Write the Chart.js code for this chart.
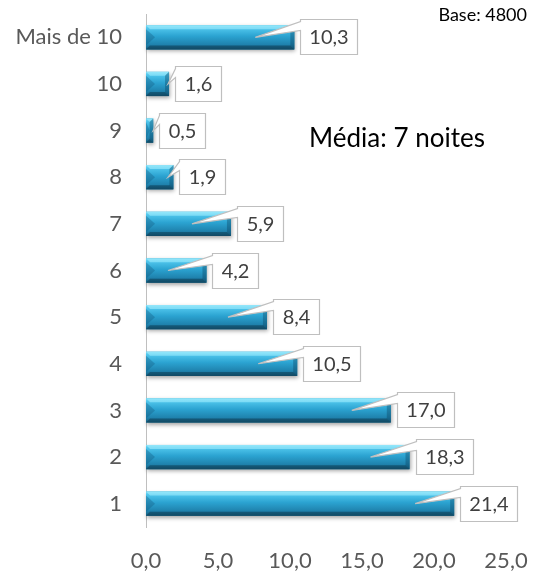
<!DOCTYPE html>
<html><head><meta charset="utf-8">
<script src="https://cdn.jsdelivr.net/npm/chart.js@4/dist/chart.umd.min.js"></script>
<style>html,body{margin:0;padding:0;background:#fff}#wrap{position:relative;width:536px;height:573px}</style>
</head><body><div id="wrap"><canvas id="c" width="536" height="573"></canvas></div>
<script>
const categories = ["Mais de 10","10","9","8","7","6","5","4","3","2","1"];
const values = [10.3,1.6,0.5,1.9,5.9,4.2,8.4,10.5,17.0,18.3,21.4];
const xTicks = [0,5,10,15,20,25];
const noteText = "Média: 7 noites";
const baseText = "Base: 4800";
const FONT = "Lato, 'Open Sans', sans-serif";
const fmt = v => v.toFixed(1).replace('.', ',');

const barStyle = {
  id: 'barStyle',
  afterDatasetsDraw(chart) {
    const ctx = chart.ctx;
    const meta = chart.getDatasetMeta(0);
    meta.data.forEach((el) => {
      const x0 = el.base, x1 = el.x, h = el.height, yc = el.y;
      const top = yc - h/2, bot = yc + h/2;
      ctx.save();
      ctx.shadowColor = 'rgba(0,0,0,0.35)';
      ctx.shadowBlur = 4; ctx.shadowOffsetX = 1; ctx.shadowOffsetY = 2;
      const g = ctx.createLinearGradient(0, top, 0, bot);
      g.addColorStop(0, '#7ddcf5');
      g.addColorStop(0.12, '#50c6ec');
      g.addColorStop(0.45, '#2ba3d1');
      g.addColorStop(0.8, '#1f82ad');
      g.addColorStop(1, '#175c7c');
      ctx.fillStyle = g;
      ctx.fillRect(x0, top, x1 - x0, h);
      ctx.restore();
      const b = Math.min(4, (x1-x0)/2);
      ctx.save();
      ctx.fillStyle = 'rgba(170,240,255,0.55)';
      ctx.beginPath(); ctx.moveTo(x0, top); ctx.lineTo(x1, top); ctx.lineTo(x1-b, top+b); ctx.lineTo(x0+b, top+b); ctx.closePath(); ctx.fill();
      ctx.fillStyle = 'rgba(10,50,70,0.45)';
      ctx.beginPath(); ctx.moveTo(x0, bot); ctx.lineTo(x1, bot); ctx.lineTo(x1-b, bot-b); ctx.lineTo(x0+b, bot-b); ctx.closePath(); ctx.fill();
      ctx.fillStyle = 'rgba(10,60,90,0.35)';
      ctx.beginPath(); ctx.moveTo(x1, top); ctx.lineTo(x1, bot); ctx.lineTo(x1-b, bot-b); ctx.lineTo(x1-b, top+b); ctx.closePath(); ctx.fill();
      const lb = Math.min(9, (x1-x0)/2);
      ctx.fillStyle = 'rgba(20,90,125,0.35)';
      ctx.beginPath(); ctx.moveTo(x0, top+b); ctx.lineTo(x0+lb, yc); ctx.lineTo(x0, bot-b); ctx.closePath(); ctx.fill();
      ctx.restore();
    });
    ctx.save();
    ctx.font = '20px ' + FONT;
    meta.data.forEach((el, i) => {
      const x0 = el.base, x1 = el.x, yc = el.y;
      const txt = fmt(values[i]);
      const tw = ctx.measureText(txt).width;
      const bw = Math.round(tw + 18), bh = 35;
      const bl = Math.round(x1 + 6) + 0.5, bt = Math.round(yc - 18) + 0.5;
      const tx = x1 - Math.min(39, Math.max(0, (x1 - x0) - 22));
      const ty = yc;
      ctx.beginPath();
      ctx.moveTo(bl, bt);
      ctx.lineTo(bl + bw, bt);
      ctx.lineTo(bl + bw, bt + bh);
      ctx.lineTo(bl, bt + bh);
      ctx.lineTo(bl, bt + 11);
      ctx.lineTo(tx, ty);
      ctx.lineTo(bl, bt + 2);
      ctx.closePath();
      ctx.fillStyle = '#ffffff';
      ctx.fill();
      ctx.strokeStyle = '#bfbfbf';
      ctx.lineWidth = 1.2;
      ctx.stroke();
      ctx.fillStyle = '#404040';
      ctx.textAlign = 'center'; ctx.textBaseline = 'middle';
      ctx.fillText(txt, bl + bw/2, bt + bh/2 + 1);
    });
    ctx.restore();
  },
  afterDraw(chart) {
    const ctx = chart.ctx;
    ctx.save();
    ctx.fillStyle = '#000';
    ctx.textBaseline = 'alphabetic';
    ctx.textAlign = 'center';
    ctx.font = '26px ' + FONT;
    ctx.fillText(noteText, 397, 147);
    ctx.font = '18px ' + FONT;
    ctx.textAlign = 'right';
    ctx.fillText(baseText, 527, 21);
    ctx.restore();
  }
};

new Chart(document.getElementById('c'), {
  type: 'bar',
  data: {
    labels: categories,
    datasets: [{
      data: values,
      backgroundColor: '#2ba3d1',
      borderWidth: 0,
      barPercentage: 0.52,
      categoryPercentage: 1
    }]
  },
  options: {
    indexAxis: 'y',
    responsive: false,
    animation: false,
    devicePixelRatio: 1,
    layout: { padding: { left: 0, right: 30, top: 14, bottom: 0 } },
    plugins: { legend: { display: false }, tooltip: { enabled: false } },
    scales: {
      x: {
        min: 0, max: 25,
        afterBuildTicks(scale) { scale.ticks = xTicks.map(v => ({ value: v })); },
        afterFit(scale) { scale.height = 46; scale.paddingLeft = 0; scale.paddingRight = 0; },
        grid: { display: false, drawTicks: false },
        border: { display: false },
        ticks: {
          padding: 21,
          color: '#595959',
          font: { family: FONT, size: 22 },
          callback: v => fmt(v)
        }
      },
      y: {
        afterFit(scale) { scale.width = 146; scale.paddingTop = 0; scale.paddingBottom = 0; },
        grid: { display: false, drawTicks: false },
        border: { display: true, color: '#bfbfbf', width: 1 },
        ticks: {
          padding: 24,
          color: '#595959',
          font: { family: FONT, size: 22 }
        }
      }
    }
  },
  plugins: [barStyle]
});
</script>
</body></html>
